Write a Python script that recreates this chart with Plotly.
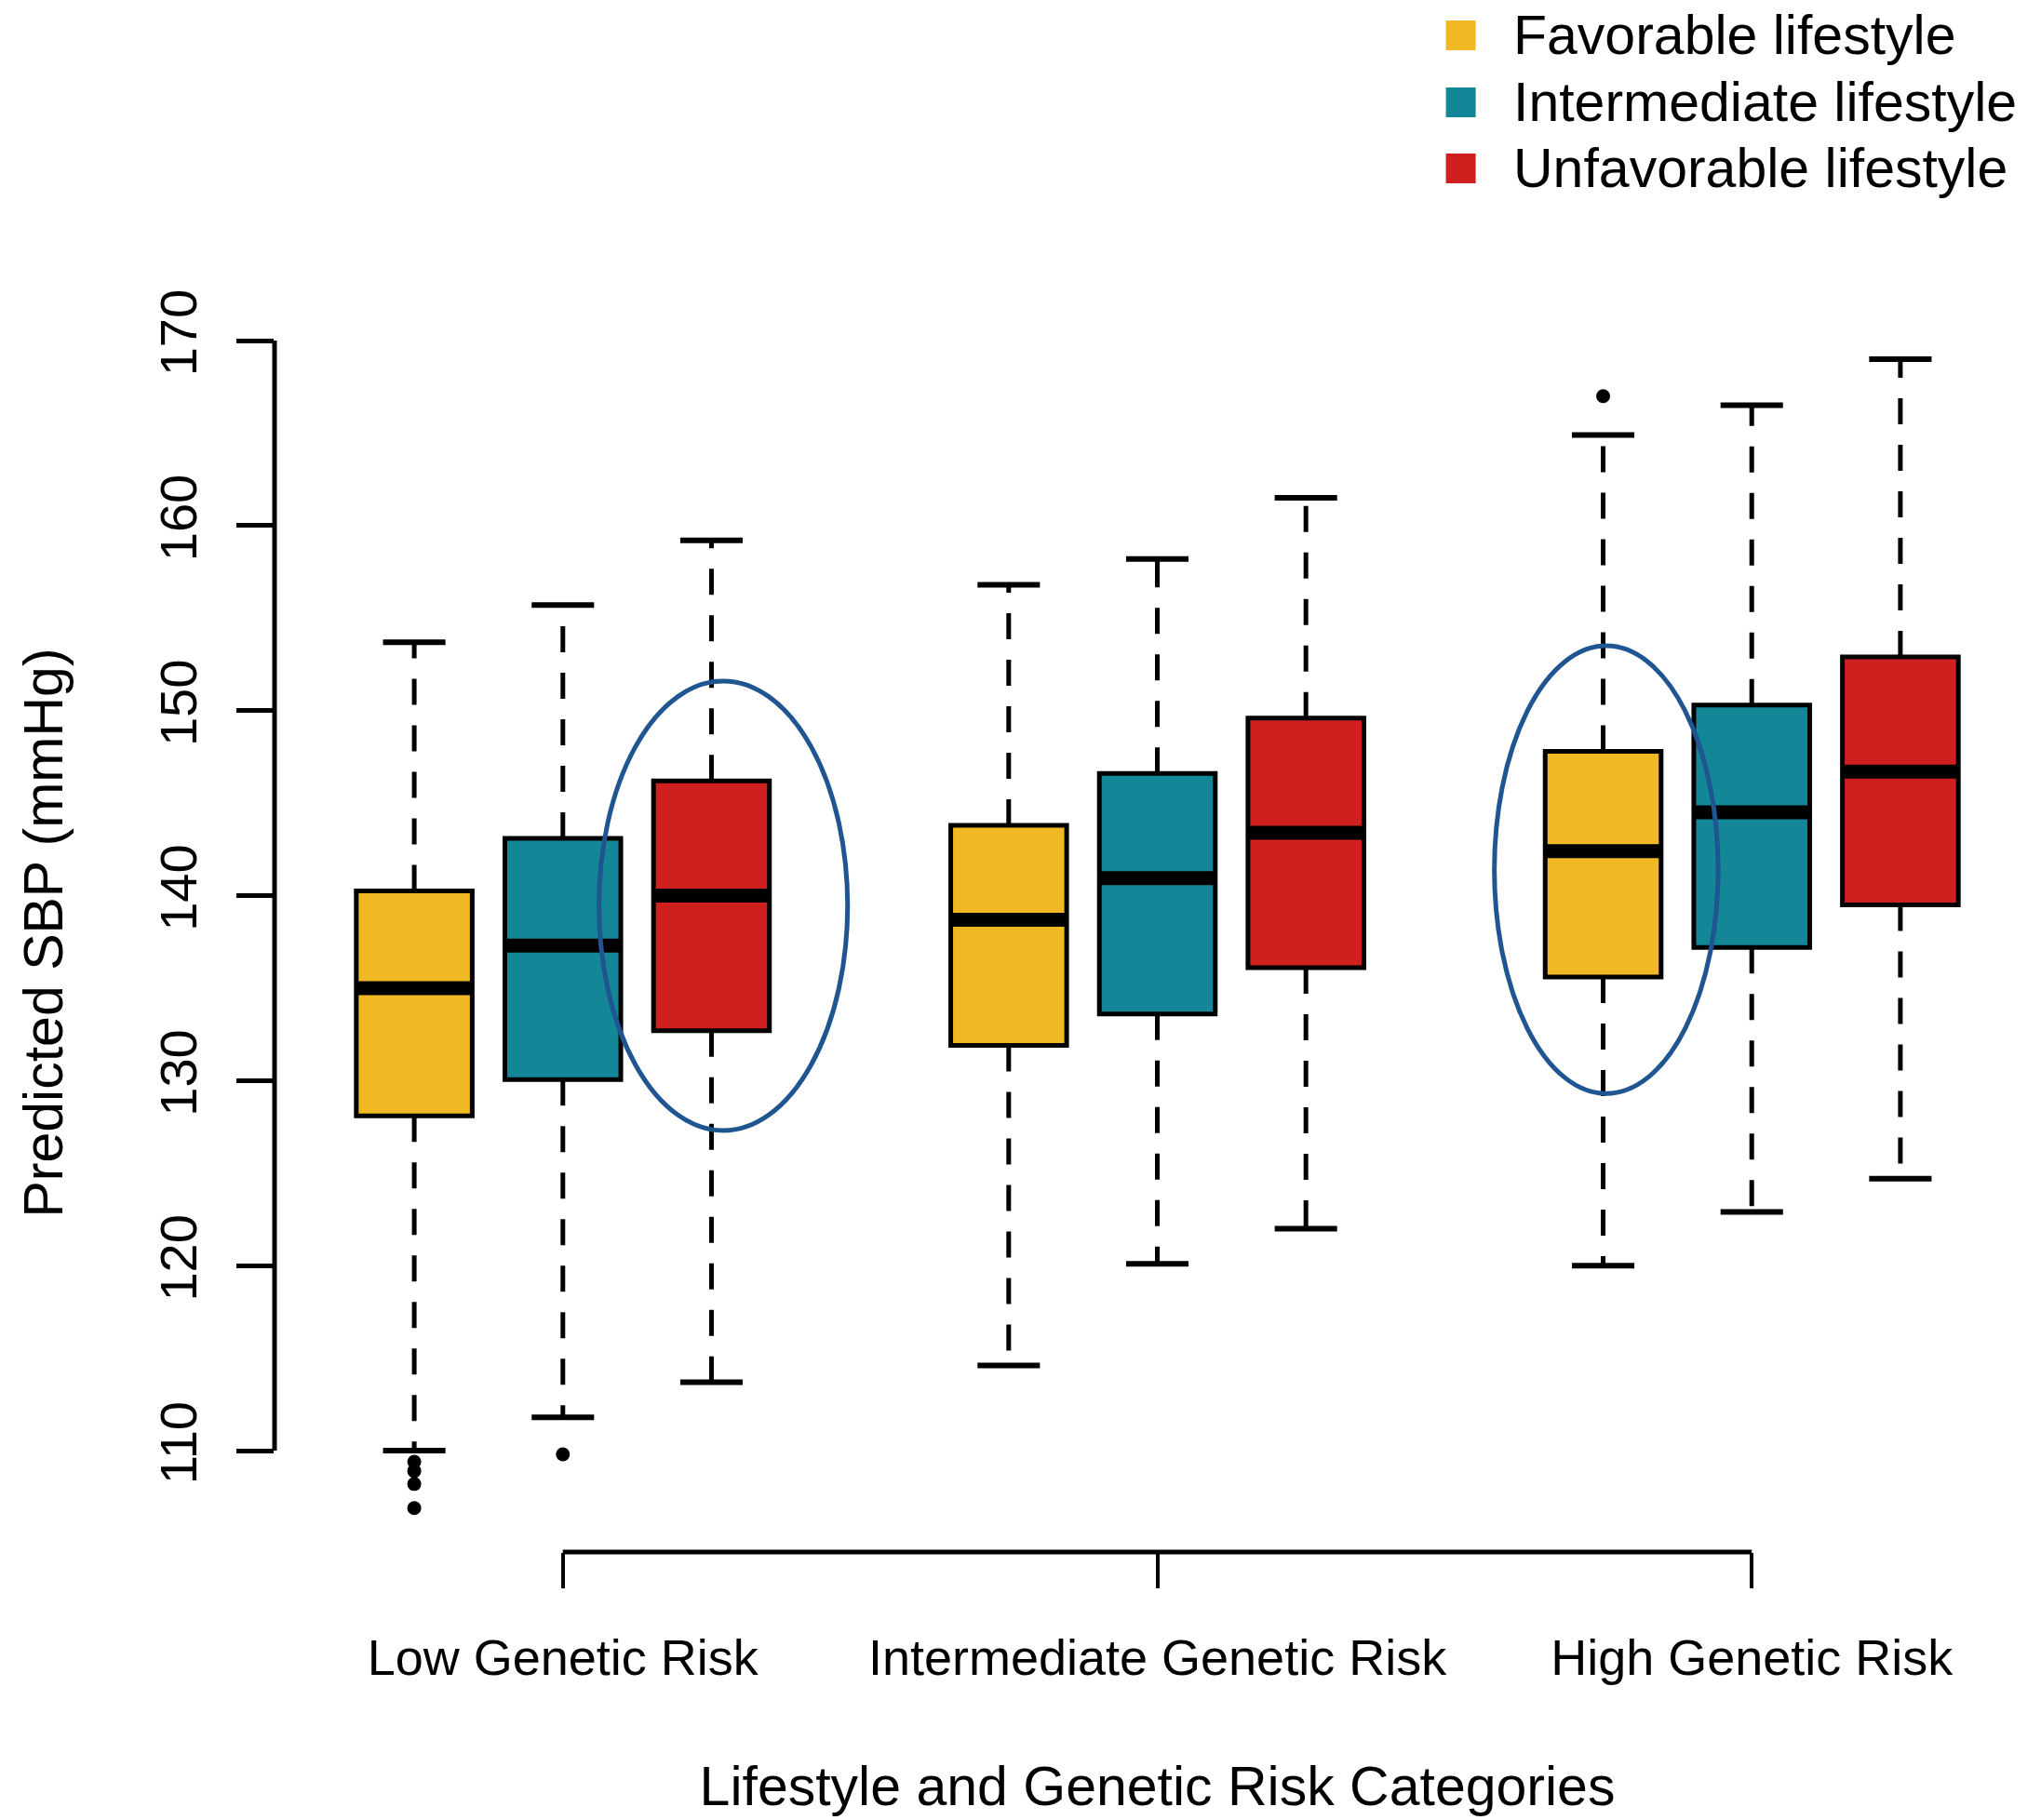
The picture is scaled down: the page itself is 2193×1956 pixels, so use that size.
import plotly.graph_objects as go

# ---------------- data ----------------
group_labels = ["Low Genetic Risk", "Intermediate Genetic Risk", "High Genetic Risk"]
group_ticks = [2, 6, 10]

lifestyles = ["Favorable lifestyle", "Intermediate lifestyle", "Unfavorable lifestyle"]
colors = ["#F0B923", "#138798", "#D01F1F"]

pos_fav = [1, 5, 9]
pos_int = [2, 6, 10]
pos_unf = [3, 7, 11]

fav_lower = [110.0, 114.6, 120.0]
fav_q1 = [128.1, 131.9, 135.6]
fav_med = [135.0, 138.7, 142.4]
fav_q3 = [140.25, 143.8, 147.8]
fav_upper = [153.7, 156.8, 164.9]
fav_out_x = [1, 1, 1, 1, 9]
fav_out_y = [109.4, 108.9, 108.2, 106.9, 167.0]

int_lower = [111.8, 120.1, 122.9]
int_q1 = [130.05, 133.6, 137.2]
int_med = [137.3, 140.95, 144.5]
int_q3 = [143.1, 146.6, 150.3]
int_upper = [155.7, 158.2, 166.5]
int_out_x = [2]
int_out_y = [109.8]

unf_lower = [113.7, 122.0, 124.7]
unf_q1 = [132.7, 136.1, 139.5]
unf_med = [140.0, 143.4, 146.7]
unf_q3 = [146.2, 149.6, 152.9]
unf_upper = [159.2, 161.5, 169.0]
unf_out_x = []
unf_out_y = []

# highlighted boxes (ellipse bounds in data units)
ellipse_x0 = [2.243, 8.268]
ellipse_x1 = [3.916, 9.774]
ellipse_y0 = [127.3, 129.3]
ellipse_y1 = [151.6, 153.5]

y_ticks = [110, 120, 130, 140, 150, 160, 170]

series = [
    (lifestyles[0], colors[0], pos_fav, fav_lower, fav_q1, fav_med, fav_q3, fav_upper, fav_out_x, fav_out_y),
    (lifestyles[1], colors[1], pos_int, int_lower, int_q1, int_med, int_q3, int_upper, int_out_x, int_out_y),
    (lifestyles[2], colors[2], pos_unf, unf_lower, unf_q1, unf_med, unf_q3, unf_upper, unf_out_x, unf_out_y),
]

FONT = "Liberation Sans, Arial, Helvetica, sans-serif"
BOX_W = 0.78
CAP_HALF = 0.21

fig = go.Figure()

# boxes
for name, col, pos, lo, q1, med, q3, hi, ox, oy in series:
    fig.add_trace(go.Box(
        x=pos, q1=q1, median=med, q3=q3, lowerfence=q1, upperfence=q3,
        width=BOX_W, fillcolor=col, line=dict(color="black", width=5),
        whiskerwidth=0, boxpoints=False, showlegend=False, hoverinfo="skip",
        name=name,
    ))

# whiskers, caps, medians, outliers
for name, col, pos, lo, q1, med, q3, hi, ox, oy in series:
    wx, wy, cx, cy, mx, my = [], [], [], [], [], []
    for p, l, a, m, b, h in zip(pos, lo, q1, med, q3, hi):
        wx += [p, p, None, p, p, None]
        wy += [b, h, None, a, l, None]
        cx += [p - CAP_HALF, p + CAP_HALF, None, p - CAP_HALF, p + CAP_HALF, None]
        cy += [h, h, None, l, l, None]
        mx += [p - BOX_W / 2, p + BOX_W / 2, None]
        my += [m, m, None]
    fig.add_trace(go.Scatter(x=wx, y=wy, mode="lines", showlegend=False, hoverinfo="skip",
                             line=dict(color="black", width=5, dash="28px,22px")))
    fig.add_trace(go.Scatter(x=cx, y=cy, mode="lines", showlegend=False, hoverinfo="skip",
                             line=dict(color="black", width=6)))
    fig.add_trace(go.Scatter(x=mx, y=my, mode="lines", showlegend=False, hoverinfo="skip",
                             line=dict(color="black", width=15)))
    if ox:
        fig.add_trace(go.Scatter(x=ox, y=oy, mode="markers", showlegend=False, hoverinfo="skip",
                                 marker=dict(color="black", size=15)))

shapes = []
# ellipses
for x0, x1, y0, y1 in zip(ellipse_x0, ellipse_x1, ellipse_y0, ellipse_y1):
    shapes.append(dict(type="circle", xref="x", yref="y", x0=x0, x1=x1, y0=y0, y1=y1,
                       line=dict(color="#1F5591", width=5), layer="above"))
# y axis line (R style: only spans tick range)
shapes.append(dict(type="line", xref="paper", yref="y", x0=0, x1=0,
                   y0=y_ticks[0], y1=y_ticks[-1], line=dict(color="black", width=5)))
# x axis bracket
shapes.append(dict(type="line", xref="x", yref="paper", x0=group_ticks[0], x1=group_ticks[-1],
                   y0=0, y1=0, line=dict(color="black", width=5)))

# legend (top right)
legend_y = [1.2246, 1.1706, 1.1172]
annotations = []
for lab, col, ly in zip(lifestyles, colors, legend_y):
    shapes.append(dict(type="rect", xref="paper", yref="paper",
                       xsizemode="pixel", ysizemode="pixel",
                       xanchor=0.6719, yanchor=ly, x0=-16, x1=16, y0=-16, y1=16,
                       fillcolor=col, line=dict(width=0)))
    annotations.append(dict(text=lab, xref="paper", yref="paper", x=0.7006, y=ly,
                            xanchor="left", yanchor="middle", showarrow=False,
                            font=dict(size=59, color="black", family=FONT)))

fig.update_layout(
    width=2193, height=1956,
    margin=dict(l=295, r=1, t=337, b=288, autoexpand=False),
    paper_bgcolor="white", plot_bgcolor="white",
    boxmode="overlay",
    showlegend=False,
    font=dict(family=FONT, color="black"),
    shapes=shapes,
    annotations=annotations,
    xaxis=dict(
        range=[0.06, 11.94], showgrid=False, zeroline=False, showline=False,
        tickmode="array", tickvals=group_ticks, ticktext=group_labels,
        ticks="outside", ticklen=38, tickwidth=4, tickcolor="black",
        ticklabelstandoff=28,
        tickfont=dict(size=54, family=FONT, color="black"),
        title=dict(text="Lifestyle and Genetic Risk Categories",
                   font=dict(size=59, family=FONT, color="black"), standoff=88),
        automargin=False,
    ),
    yaxis=dict(
        range=[104.52, 171.46], showgrid=False, zeroline=False, showline=False,
        tickmode="array", tickvals=y_ticks,
        ticks="outside", ticklen=40, tickwidth=5, tickcolor="black",
        tickangle=-90, ticklabelstandoff=21,
        tickfont=dict(size=56, family=FONT, color="black"),
        title=dict(text="Predicted SBP (mmHg)",
                   font=dict(size=59, family=FONT, color="black"), standoff=72),
        automargin=False,
    ),
)

fig.write_html("out.html")
